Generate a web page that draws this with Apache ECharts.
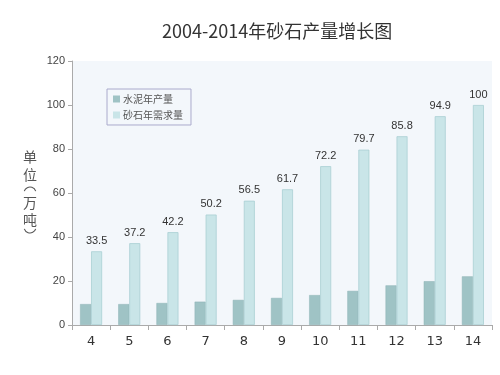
<!DOCTYPE html>
<html><head><meta charset="utf-8">
<script src="https://cdn.jsdelivr.net/npm/echarts@6/dist/echarts.min.js"></script>
<style>html,body{margin:0;padding:0;background:#fff}#c{width:500px;height:375px}</style>
</head><body><div id="c"></div>
<script>
const categories = ['4','5','6','7','8','9','10','11','12','13','14'];
const cementOutput = [9.5, 9.5, 10, 10.6, 11.4, 12.3, 13.6, 15.5, 18, 19.9, 22.1];
const sandDemand = [33.5, 37.2, 42.2, 50.2, 56.5, 61.7, 72.2, 79.7, 85.8, 94.9, 100];
const yTicks = [0, 20, 40, 60, 80, 100, 120];

function ch(text, y) {
  return {type: 'text', x: 30, y: y, style: {text: text, fontFamily: 'Noto Sans CJK SC', fontSize: 14, fill: '#555', align: 'center', verticalAlign: 'middle'}};
}
function paren(cy, top) {
  return {type: 'arc', shape: {cx: 30, cy: cy, r: 6, startAngle: top ? Math.PI * 1.1 : Math.PI * 0.1, endAngle: top ? Math.PI * 1.9 : Math.PI * 0.9, clockwise: true},
    style: {stroke: '#555', fill: null, lineWidth: 1.1}};
}

const chart = echarts.init(document.getElementById('c'));
chart.setOption({
  backgroundColor: '#fff',
  animation: false,
  title: {
    text: '2004-2014年砂石产量增长图',
    left: 157, top: 17,
    textStyle: {fontFamily: 'Noto Sans CJK SC', fontSize: 18, fontWeight: 'normal', color: '#333'}
  },
  legend: {
    orient: 'vertical', left: 107, top: 89,
    padding: [5, 8, 5, 6], itemGap: 6,
    borderColor: '#aaaacc', borderWidth: 1,
    itemWidth: 7, itemHeight: 7, icon: 'rect', itemStyle: {borderWidth: 0},
    textStyle: {fontFamily: 'Noto Sans CJK SC', fontSize: 10, color: '#555', padding: [0, 0, 0, -2]},
    data: ['水泥年产量', '砂石年需求量']
  },
  grid: {left: 72, right: 8, top: 61, bottom: 50, show: true, backgroundColor: '#f3f7fb', borderWidth: 0},
  graphic: [
    ch('单', 157), ch('位', 175), paren(193, true), ch('万', 203), ch('吨', 220), paren(227, false)
  ],
  xAxis: {
    type: 'category', data: categories,
    axisLine: {lineStyle: {color: '#aaa'}},
    axisTick: {show: true, length: 5, lineStyle: {color: '#aaa'}},
    axisLabel: {fontSize: 13, color: '#333', margin: 10, fontFamily: 'DejaVu Sans'}
  },
  yAxis: {
    type: 'value', min: yTicks[0], max: yTicks[yTicks.length - 1], interval: 20,
    axisLine: {show: true, lineStyle: {color: '#aaa'}},
    axisTick: {show: true, length: 4, lineStyle: {color: '#aaa'}},
    splitLine: {show: false},
    axisLabel: {fontSize: 11, color: '#444', margin: 7}
  },
  series: [
    {
      name: '水泥年产量', type: 'bar', data: cementOutput,
      barWidth: 11, barGap: '0%',
      itemStyle: {color: '#9fc3c5', borderColor: '#8db3b5', borderWidth: 0.5}
    },
    {
      name: '砂石年需求量', type: 'bar', data: sandDemand,
      barWidth: 11,
      itemStyle: {color: '#c9e5e8', borderColor: '#a9cfd3', borderWidth: 0.8},
      label: {show: true, position: 'top', distance: 5, fontSize: 11, color: '#333'}
    }
  ]
});
</script></body></html>
